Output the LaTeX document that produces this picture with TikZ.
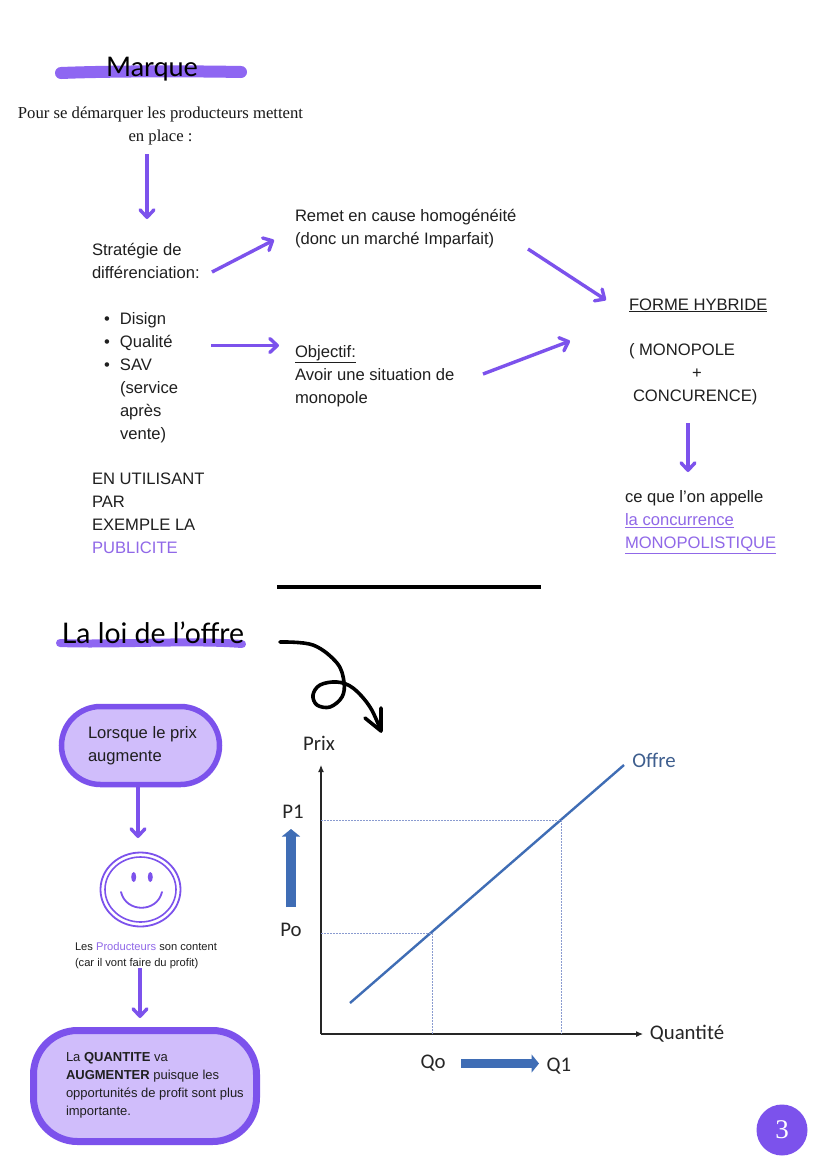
\documentclass[tikz,border=0pt]{standalone}
\usepackage{fontspec}
\setmainfont{Liberation Sans}
\newfontfamily\headfont{Lato}
\newfontfamily\serifbody{Liberation Serif}
\newfontfamily\graphfont{Carlito}
\usetikzlibrary{arrows.meta,shapes.geometric}
\definecolor{vio}{HTML}{7C52EC}
\definecolor{viol}{HTML}{8E66F2}
\definecolor{viotxt}{HTML}{9068E8}
\definecolor{viofill}{HTML}{D0BDFB}
\definecolor{gblue}{HTML}{3F6DB5}
\definecolor{gtext}{HTML}{3E5E8E}
\definecolor{gdot}{HTML}{8A9BD0}
\tikzset{
  txt/.style={inner sep=0pt,outer sep=0pt,anchor=base west,align=left,text=black!88,font=\fontsize{16.6}{23}\selectfont},
  head/.style={inner sep=0pt,text=black,font=\headfont\fontsize{27}{32}\selectfont},
  glabel/.style={inner sep=0pt,text=black!85,font=\graphfont\fontsize{20.8}{24}\selectfont},
  arr/.style={draw=vio,line width=3.4pt,-{Straight Barb[length=7.5pt,width=14pt,round,line width=3.4pt]}},
  swash/.style={draw=viol,line cap=round},
  bubble/.style={draw=vio,fill=viofill},
  axisline/.style={draw=black!85,line width=1.1pt,-{Latex[length=7pt,width=6pt]}},
  dots/.style={draw=gdot,line width=1pt,dash pattern=on 1.6pt off 1.4pt},
  bigarrow/.style={draw=gblue,line width=9.2pt,-{Triangle[length=7.5pt,width=18pt]}},
}
\begin{document}
\begin{tikzpicture}[x=1pt,y=-1pt]
\useasboundingbox (0,0) rectangle (828,1171);
\fill[white] (0,0) rectangle (828,1171);

% ---- top section
\coordinate (s1a) at (61,73); \coordinate (s1b) at (241,72);
\draw[swash,line width=12pt] (s1a) .. controls (110,71) and (190,71) .. (s1b);
\node[head] (marque) at (152,69) {Marque};
\node[inner sep=0pt,align=center,text=black!90,font=\serifbody\fontsize{16.7}{23}\selectfont,anchor=north] (pour) at (160.5,106.5) {Pour se démarquer les producteurs mettent\\en place :};

\node[txt] (strat) at (92,278.5) {Stratégie de\\différenciation:};
\node[txt] (list) at (104,439) {\makebox[16pt][l]{•}Disign\\\makebox[16pt][l]{•}Qualité\\\makebox[16pt][l]{•}SAV\\\hspace*{16pt}(service\\\hspace*{16pt}après\\\hspace*{16pt}vente)};
\node[txt] (usage) at (92,553.5) {EN UTILISANT\\PAR\\EXEMPLE LA\\\textcolor{viotxt}{PUBLICITE}};
\node[txt] (remet) at (295,244) {Remet en cause homogénéité\\(donc un marché Imparfait)};
\node[txt] (obj) at (295,403.5) {\underline{Objectif:}\\Avoir une situation de\\monopole};
\node[txt] (forme) at (629,310) {\underline{FORME HYBRIDE}};
\node[txt] (mono) at (629,401.5) {( MONOPOLE\\\hspace*{63pt}+\\\hspace*{4pt}CONCURENCE)};
\node[txt] (appel) at (625,548.5) {ce que l’on appelle\\\textcolor{viotxt}{\underline{la concurrence}}\\\textcolor{viotxt}{\underline{MONOPOLISTIQUE}}};

\coordinate (a1s) at (147,154); \coordinate (a1e) at (147,219);
\coordinate (a2s) at (212,272); \coordinate (a2e) at (274,240);
\coordinate (a3s) at (211,345.5); \coordinate (a3e) at (279,345.5);
\coordinate (a4s) at (528,249); \coordinate (a4e) at (606,300);
\coordinate (a5s) at (483,374); \coordinate (a5e) at (570,341);
\coordinate (a6s) at (688,423); \coordinate (a6e) at (688,472);
\foreach \p in {1,...,6}{\draw[arr] (a\p s) -- (a\p e);}

\coordinate (r1) at (277,587); \coordinate (r2) at (541,587);
\draw[black,line width=3.6pt] (r1) -- (r2);

% ---- bottom section
\coordinate (s2a) at (60,643); \coordinate (s2b) at (242,644);
\draw[swash,line width=8pt] (s2a) .. controls (110,645) and (190,640) .. (s2b);
\node[head,font=\headfont\fontsize{28.4}{32}\selectfont] (loi) at (153,632.5) {La loi de l’offre};

\draw[black,line width=3.6pt,line cap=round,line join=round]
  plot[smooth,tension=0.6] coordinates {(280,642) (313,645) (337,663) (344,682) (342,697) (330,707) (317,705) (313,695) (320,685) (337,682) (353,688) (370,707) (381,731)};
\draw[black,line width=3.6pt,line cap=round,line join=round] (381,708) -- (381,731) -- (365,718);

\node[bubble,rounded corners=39pt,line width=5.5pt,minimum width=158pt,minimum height=78pt] (b1) at (140.5,745.5) {};
\node[txt] (b1t) at (88,761) {Lorsque le prix\\augmente};
\node[draw=vio,line width=1.8pt,ellipse,minimum width=80pt,minimum height=74pt,inner sep=0pt] (sm) at (140.5,889.5) {};
\node[draw=vio,line width=1.6pt,ellipse,minimum width=71pt,minimum height=65pt,inner sep=0pt] (sm2) at (140.5,889.5) {};
\fill[vio] (133.7,877) ellipse (2.5pt and 5pt);
\fill[vio] (150.3,877) ellipse (2.5pt and 5pt);
\draw[vio,line width=1.8pt,line cap=round] (121,892) .. controls (126,913) and (157,913) .. (162,892);
\node[txt,font=\fontsize{11.15}{15.5}\selectfont] (prod) at (75,966) {Les \textcolor{viotxt}{Producteurs} son content\\(car il vont faire du profit)};
\node[bubble,rounded corners=44pt,line width=7pt,minimum width=223pt,minimum height=111pt] (b2) at (145,1086) {};
\node[txt,font=\fontsize{13}{18}\selectfont] (b2t) at (66,1115) {La \textbf{QUANTITE} va\\\textbf{AUGMENTER} puisque les\\opportunités de profit sont plus\\importante.};

\coordinate (a7e) at (138,838); \coordinate (a8s) at (140,968); \coordinate (a8e) at (140,1018);
\draw[arr] (b1.south -| a7e) -- (a7e);
\draw[arr] (a8s) -- (a8e);

% ---- graph
\coordinate (O) at (321,1034); \coordinate (Y) at (321,765); \coordinate (X) at (643,1034);
\draw[axisline] (O) -- (Y);
\draw[axisline] (O) -- (X);
\coordinate (o1) at (350,1003); \coordinate (o2) at (624,765);
\draw[gblue,line width=2.4pt] (o1) -- (o2);
\coordinate (p0) at (432,933); \coordinate (p1) at (561,820);
\draw[dots] (O |- p1) -- (p1) -- (p1 |- O);
\draw[dots] (O |- p0) -- (p0) -- (p0 |- O);
\node[glabel] (prix) at (319,743) {Prix};
\node[glabel] (P1) at (293,812) {P1};
\node[glabel] (Po) at (291,929.5) {Po};
\node[glabel,text=gtext] (offre) at (654,760) {Offre};
\node[glabel] (quant) at (687,1034) {Quantité};
\node[glabel] (Qo) at (433,1063) {Qo};
\node[glabel] (Q1) at (559,1066) {Q1};
\coordinate (u1) at (291,907); \coordinate (u2) at (291,829);
\draw[bigarrow] (u1) -- (u2);
\coordinate (v1) at (461,1063.5); \coordinate (v2) at (539,1063.5);
\draw[bigarrow] (v1) -- (v2);

% ---- page number
\node[circle,fill=vio,minimum size=51pt,inner sep=0pt,text=white,font=\serifbody\fontsize{27}{30}\selectfont] (page) at (782,1130) {3};
\end{tikzpicture}
\end{document}
